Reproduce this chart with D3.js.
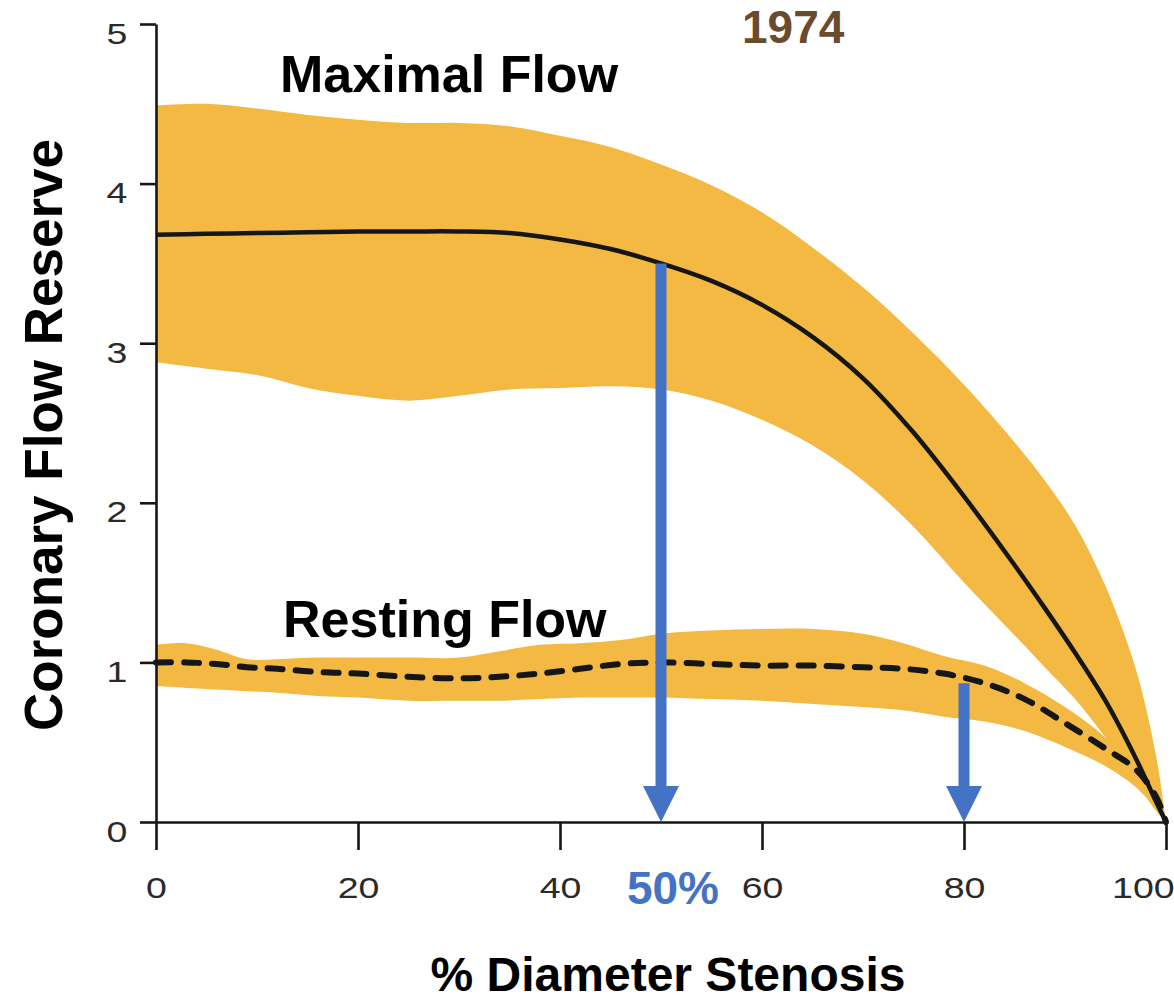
<!DOCTYPE html>
<html>
<head>
<meta charset="utf-8">
<script src="https://cdn.jsdelivr.net/npm/d3@7"></script>
<style>
  html, body { margin: 0; padding: 0; background: #fff; }
  svg { display: block; }
</style>
</head>
<body>
<svg id="chart" width="1174" height="1001"></svg>
<script>
// Coronary flow reserve vs. percent diameter stenosis (Gould, 1974)

// Maximal (hyperaemic) flow: mean curve with its spread band
const maxStenosis = [0, 5, 10, 15, 20, 25, 30, 35, 40, 45, 50, 55, 60, 65, 70, 75, 80, 85, 88, 91, 94, 97, 99, 100];
const maxUpper    = [4.49, 4.50, 4.47, 4.43, 4.40, 4.38, 4.38, 4.36, 4.30, 4.23, 4.12, 3.99, 3.82, 3.60, 3.35, 3.06, 2.74, 2.38, 2.14, 1.86, 1.48, 0.96, 0.42, 0];
const maxMean     = [3.68, 3.685, 3.69, 3.695, 3.70, 3.70, 3.70, 3.69, 3.65, 3.59, 3.50, 3.39, 3.24, 3.04, 2.78, 2.44, 2.04, 1.61, 1.34, 1.06, 0.76, 0.40, 0.13, 0];
const maxLower    = [2.88, 2.84, 2.80, 2.72, 2.67, 2.64, 2.67, 2.71, 2.72, 2.73, 2.71, 2.64, 2.52, 2.36, 2.14, 1.85, 1.50, 1.17, 0.97, 0.77, 0.53, 0.26, 0.07, 0];

// Resting flow: mean curve with its spread band
const restStenosis = [0, 3, 6, 9, 12, 16, 20, 25, 30, 34, 38, 42, 46, 50, 55, 60, 65, 70, 74, 78, 82, 86, 90, 94, 97, 99, 100];
const restUpper    = [1.11, 1.12, 1.08, 1.02, 1.02, 1.03, 1.03, 1.03, 1.03, 1.07, 1.11, 1.12, 1.14, 1.18, 1.20, 1.21, 1.21, 1.18, 1.12, 1.04, 0.98, 0.87, 0.72, 0.53, 0.32, 0.12, 0];
const restMean     = [1.00, 1.00, 0.99, 0.97, 0.96, 0.94, 0.93, 0.91, 0.90, 0.91, 0.93, 0.96, 0.99, 1.00, 0.99, 0.98, 0.98, 0.97, 0.96, 0.93, 0.87, 0.77, 0.62, 0.46, 0.33, 0.16, 0];
const restLower    = [0.85, 0.84, 0.83, 0.82, 0.81, 0.79, 0.78, 0.76, 0.76, 0.76, 0.77, 0.78, 0.78, 0.78, 0.77, 0.76, 0.74, 0.72, 0.70, 0.66, 0.63, 0.57, 0.47, 0.35, 0.22, 0.08, 0];

// Highlighted stenosis thresholds (arrows) and where each arrow starts
const arrowStenosis = [50, 80];
const arrowFrom     = [3.50, 0.87];

// Axis ticks
const xTicks = [0, 20, 40, 60, 80, 100];
const yTicks = [0, 1, 2, 3, 4, 5];

const BAND = "#F3B942";
const BLUE = "#4472C4";
const INK  = "#161616";

const svg = d3.select("#chart");

const x = d3.scaleLinear().domain([0, 100]).range([156, 1166]);
const y = d3.scaleLinear().domain([0, 5]).range([822, 24]);

function rows(xs, ...cols) {
  return xs.map((v, i) => ({ s: v, c: cols.map(c => c[i]) }));
}
const maxRows  = rows(maxStenosis, maxLower, maxMean, maxUpper);
const restRows = rows(restStenosis, restLower, restMean, restUpper);

const smooth = d3.curveCatmullRom.alpha(0.5);

const band = d3.area()
  .x(d => x(d.s))
  .y0(d => y(d.c[0]))
  .y1(d => y(d.c[2]))
  .curve(smooth);

const mid = d3.line()
  .x(d => x(d.s))
  .y(d => y(d.c[1]))
  .curve(smooth);

// Bands
svg.append("path").datum(maxRows).attr("d", band).attr("fill", BAND);
svg.append("path").datum(restRows).attr("d", band).attr("fill", BAND);

// Mean curves
svg.append("path").datum(maxRows).attr("d", mid)
  .attr("fill", "none").attr("stroke", INK).attr("stroke-width", 4.5);
svg.append("path").datum(restRows).attr("d", mid)
  .attr("fill", "none").attr("stroke", INK).attr("stroke-width", 6)
  .attr("stroke-dasharray", "15 13").attr("stroke-linecap", "round");

// Axes
const tickFont = "'Liberation Sans', Arial, Helvetica, sans-serif";

const gx = svg.append("g").attr("transform", `translate(0,${y(0)})`)
  .call(d3.axisBottom(x).tickValues(xTicks).tickFormat(d3.format("d"))
    .tickSize(28).tickSizeOuter(0).tickPadding(0));
const gy = svg.append("g").attr("transform", `translate(${x(0)},0)`)
  .call(d3.axisLeft(y).tickValues(yTicks).tickFormat(d3.format("d"))
    .tickSize(16).tickSizeOuter(0).tickPadding(0));

[gx, gy].forEach(g => {
  g.select(".domain").attr("stroke", INK).attr("stroke-width", 2.6);
  g.selectAll(".tick line").attr("stroke", INK).attr("stroke-width", 2.6);
  g.selectAll(".tick text")
    .attr("fill", "#2a2a2a")
    .style("font-family", tickFont)
    .style("font-size", "30px");
});

gx.selectAll(".tick text")
  .attr("y", 76).attr("dy", null)
  .attr("transform", "scale(1.25,1)");

// the last x label sits flush against the right edge
gx.selectAll(".tick text").filter(d => d === 100)
  .attr("text-anchor", "end").attr("x", 6.5);

gy.selectAll(".tick text")
  .attr("x", -23).attr("dy", null).attr("y", 19)
  .attr("transform", "scale(1.25,1)");

// Arrows marking the stenosis thresholds
const shaftW = 11, headW = 36, headL = 36;
arrowStenosis.forEach((s, i) => {
  const cx = x(s), top = y(arrowFrom[i]), tip = y(0);
  const hb = tip - headL;
  const p = d3.path();
  p.moveTo(cx - shaftW / 2, top);
  p.lineTo(cx + shaftW / 2, top);
  p.lineTo(cx + shaftW / 2, hb);
  p.lineTo(cx + headW / 2, hb);
  p.lineTo(cx, tip);
  p.lineTo(cx - headW / 2, hb);
  p.lineTo(cx - shaftW / 2, hb);
  p.closePath();
  svg.append("path").attr("d", p.toString()).attr("fill", BLUE);
});

// Labels
const boldFont = "'Liberation Sans', Arial, Helvetica, sans-serif";
function label(txt, attrs, size, color) {
  const t = svg.append("text").text(txt)
    .style("font-family", boldFont)
    .style("font-weight", "bold")
    .style("font-size", size + "px")
    .attr("fill", color || "#000");
  Object.entries(attrs).forEach(([k, v]) => t.attr(k, v));
  return t;
}

label("Maximal Flow", { x: 280, y: 92 }, 52);
label("Resting Flow", { x: 283, y: 637 }, 52);
label("1974", { x: 742, y: 43 }, 46, "#6b4b2d");
label("50%", { x: x(50) + 12, y: 904, "text-anchor": "middle" }, 46, BLUE);
label("% Diameter Stenosis", { x: 668, y: 991, "text-anchor": "middle" }, 48);
label("Coronary Flow Reserve", { transform: "translate(62,435) rotate(-90)", "text-anchor": "middle" }, 53);
</script>
</body>
</html>
